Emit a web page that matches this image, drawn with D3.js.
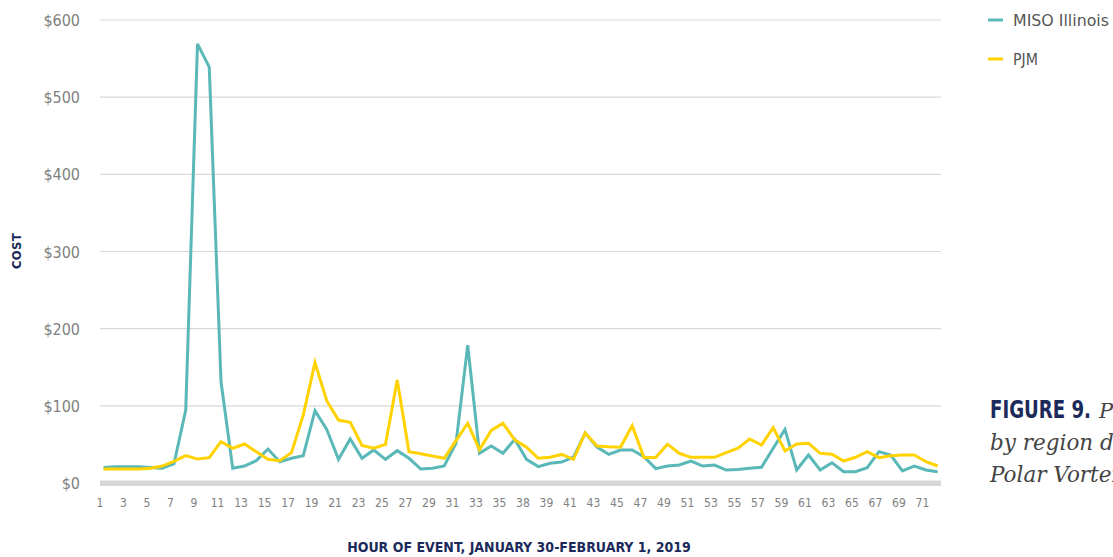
<!DOCTYPE html>
<html><head><meta charset="utf-8">
<script src="https://cdn.jsdelivr.net/npm/d3@7"></script>
<style>
html,body{margin:0;padding:0;background:#fff;overflow:hidden;}
svg{display:block;}
.cond{font-family:'DejaVu Sans Condensed','DejaVu Sans',sans-serif;font-stretch:condensed;}
</style></head>
<body>
<svg id="c" width="1113" height="557"></svg>
<script>
// Hour labels as printed on the axis (the original axis shows "38" in place of 37)
const hourLabels = ["1","2","3","4","5","6","7","8","9","10","11","12","13","14","15","16","17","18","19","20",
 "21","22","23","24","25","26","27","28","29","30","31","32","33","34","35","36","38","38","39","40",
 "41","42","43","44","45","46","47","48","49","50","51","52","53","54","55","56","57","58","59","60",
 "61","62","63","64","65","66","67","68","69","70","71","72"];
const misoIllinois = [20,21,21,21,20,19,25,94.6,569,539,131.5,19,22,29,44,27.6,32,35.4,93.7,69.5,
 30.7,57,32,42.8,30.7,41.9,32,18.1,19,22,51.4,178.5,38.5,48,38.5,56.6,30.7,21.2,25.5,27.2,
 33.6,64.8,46.6,37.2,42.8,42.8,34,18.6,22,23.3,28.5,22,23.3,16.8,17.5,19,20.3,45,69.5,16.8,
 36.3,16.8,26.3,14.7,14.7,19.9,40.6,36.3,15.6,22,16.8,14.7];
const pjm = [18,18,18,18,19,22,28,35.4,31,32.8,53.5,45,50.5,40.6,30.7,29,39.3,88,156,106.7,
 81.6,78.6,48.8,45,50,133.5,40.6,38,35,32,55,77.4,43.2,68.2,77.4,56,46.4,32,33.3,37,
 30.7,64.8,48,47,46.4,74.3,33,33,50.3,38.5,33.3,33.3,33.3,39.3,45,57,49.2,71.7,41.5,50.5,
 51.4,38.5,37.2,28.5,33.3,40.6,32.8,35.4,36.3,36.3,27.6,22];
const yTicks = [0,100,200,300,400,500,600];
const seriesNames = ["MISO Illinois","PJM"];
const seriesColors = ["#5bb8b8","#ffd200"];

const svg = d3.select("#c");

const idx = d3.range(hourLabels.length);
const x = d3.scalePoint().domain(idx).range([103.5, 937.7]);
const y = d3.scaleLinear().domain([0,600]).range([483,20]);

// gridlines
svg.append("g").selectAll("line").data(yTicks.filter(d=>d>0)).join("line")
  .attr("x1",100).attr("x2",941).attr("y1",d=>y(d)).attr("y2",d=>y(d))
  .attr("stroke","#d9d9d9").attr("stroke-width",1.2);
// baseline bar
svg.append("rect").attr("x",100).attr("width",841).attr("y",y(0)-2.5).attr("height",5.5).attr("fill","#d6d6d6");

// y axis
const yAxis = d3.axisLeft(y).tickValues(yTicks).tickFormat(d=>"$"+d).tickSize(0).tickPadding(0);
const yg = svg.append("g").attr("transform","translate(80,0)").call(yAxis);
yg.select(".domain").remove();
yg.selectAll("text").attr("class","cond").attr("font-size",16).attr("fill","#808080").attr("dy","0.35em");

// x axis
const xAxis = d3.axisBottom(x).tickValues(idx.filter(i=>i%2===0)).tickFormat(i=>hourLabels[i]).tickSize(0).tickPadding(0);
const xg = svg.append("g").attr("transform","translate(-4,500)").call(xAxis);
xg.select(".domain").remove();
xg.selectAll("text").attr("class","cond").attr("font-size",12).attr("fill","#808080").attr("dy","0.6em");

// lines
const line = d3.line().x((d,i)=>x(i)).y(d=>y(d));
[misoIllinois,pjm].forEach((s,k)=>{
  svg.append("path").datum(s).attr("d",line).attr("fill","none")
    .attr("stroke",seriesColors[k]).attr("stroke-width",3).attr("stroke-linejoin","miter");
});

// axis titles
svg.append("text").attr("class","cond").attr("transform","translate(21,251) rotate(-90)").attr("text-anchor","middle")
  .attr("font-weight",700).attr("font-size",13).attr("fill","#1b2a5a")
  .attr("letter-spacing",0.3).text("COST");
svg.append("text").attr("class","cond").attr("x",519).attr("y",552).attr("text-anchor","middle")
  .attr("font-weight",700).attr("font-size",14).attr("fill","#1b2a5a")
  .text("HOUR OF EVENT, JANUARY 30-FEBRUARY 1, 2019");

// legend
const lg = svg.append("g");
seriesNames.forEach((n,k)=>{
  const yy = 20 + k*39;
  lg.append("line").attr("x1",988).attr("x2",1003).attr("y1",yy).attr("y2",yy)
    .attr("stroke",seriesColors[k]).attr("stroke-width",3);
  lg.append("text").attr("class","cond").attr("x",1013).attr("y",yy+6)
    .attr("font-size",16.5).attr("fill","#555").attr("textLength", k===0?96:25).attr("lengthAdjust","spacingAndGlyphs").text(n);
});

// caption (runs past the right edge, as in the original page)
const serif = "'DejaVu Serif','Liberation Serif',serif";
svg.append("text").attr("class","cond").attr("x",990).attr("y",418).attr("font-weight",700)
  .attr("font-size",24).attr("fill","#1b2a5a").attr("textLength",101).attr("lengthAdjust","spacingAndGlyphs")
  .text("FIGURE 9.");
svg.append("text").attr("x",1099).attr("y",418).attr("fill","#444")
  .attr("font-family",serif).attr("font-style","italic").attr("font-size",21).text("Price");
svg.append("text").attr("x",990).attr("y",450).attr("fill","#444")
  .attr("font-family",serif).attr("font-style","italic").attr("font-size",21.5)
  .text("by region during");
svg.append("text").attr("x",990).attr("y",482).attr("fill","#444")
  .attr("font-family",serif).attr("font-style","italic").attr("font-size",21.5)
  .text("Polar Vortex");
</script>
</body></html>
